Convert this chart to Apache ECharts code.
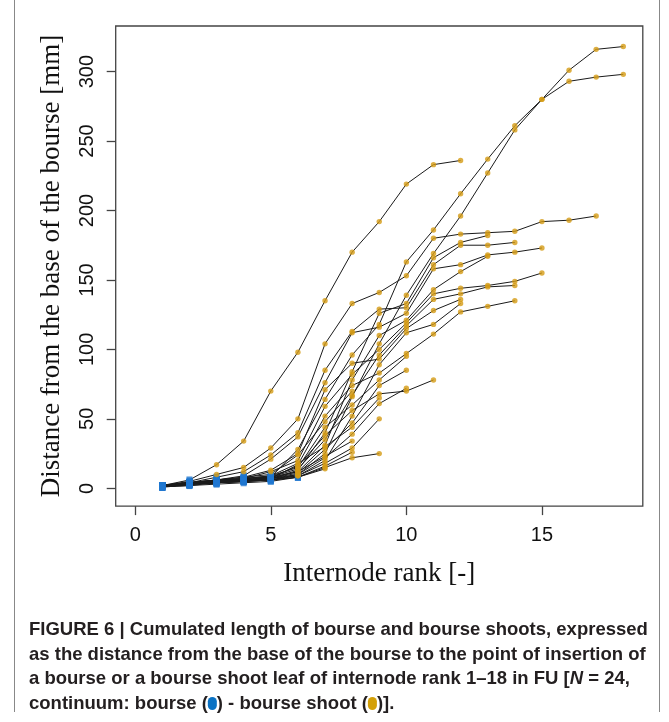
<!DOCTYPE html>
<html><head><meta charset="utf-8">
<script src="https://cdn.jsdelivr.net/npm/echarts@6/dist/echarts.min.js"></script>
<style>html,body{margin:0;padding:0;background:#fff}#c{width:669px;height:722px}</style>
</head><body><div id="c"></div>
<script>
// tick labels
const xTicks = [0, 5, 10, 15];
const yTicks = [0, 50, 100, 150, 200, 250, 300];

// cumulated distance [mm] per internode rank (rank 1 .. last rank), one array per FU
const fu01 = [2, 6, 17, 34, 70, 98, 135, 170, 192, 219, 233, 236];
const fu02 = [2, 4, 6, 7, 8, 28, 64, 96, 118, 163, 186, 212, 237, 261, 280, 301, 316, 318];
const fu03 = [2, 4, 5, 6, 7, 10, 25, 66, 104, 139, 169, 196, 227, 258, 280, 293, 296, 298];
const fu04 = [2, 5, 10, 15, 29, 50, 104, 133, 141, 153, 180, 183, 184, 185, 192, 193, 196];
const fu05 = [2, 4, 6, 9, 21, 37, 76, 112, 116, 126, 158, 161, 168, 170, 173];
const fu06 = [2, 4, 5, 7, 12, 20, 59, 82, 100, 119, 140, 144, 146, 149, 155];
const fu07 = [1, 3, 5, 6, 7, 13, 40, 84, 126, 133, 166, 177, 182];
const fu08 = [2, 3, 5, 6, 8, 14, 35, 67, 96, 117, 136, 140, 145, 146];
const fu09 = [1, 3, 4, 6, 7, 17, 52, 74, 83, 97, 111, 127, 131, 135];
const fu10 = [2, 4, 8, 12, 24, 40, 85, 113, 129, 130, 161, 175, 175, 177];
const fu11 = [2, 4, 6, 7, 8, 12, 31, 78, 110, 121, 143, 156, 167];
const fu12 = [2, 4, 6, 8, 13, 25, 71, 90, 93, 115, 128, 136];
const fu13 = [1, 3, 4, 5, 6, 9, 20, 52, 89, 112, 118, 133];
const fu14 = [2, 3, 5, 6, 8, 16, 38, 56, 68, 70, 78];
const fu15 = [2, 4, 5, 7, 9, 15, 44, 60, 78, 95];
const fu16 = [1, 3, 4, 6, 7, 11, 28, 47, 74, 85];
const fu17 = [1, 3, 4, 5, 6, 10, 22, 39, 61, 72];
const fu18 = [1, 2, 3, 4, 5, 8, 15, 22, 25];
const fu19 = [2, 3, 4, 5, 7, 9, 18, 29, 50];
const fu20 = [2, 4, 5, 7, 9, 18, 30, 44, 65];
const fu21 = [2, 4, 6, 8, 10, 24, 48, 70];
const fu22 = [1, 3, 5, 6, 7, 12, 23, 34];
const fu23 = [1, 2, 4, 5, 6, 8, 16, 26];
const fu24 = [1, 3, 4, 5, 6, 8, 14];

// number of bourse leaves (first ranks) in each FU; the rest are bourse shoot leaves
const bourseLeaves = [2, 5, 5, 2, 4, 4, 5, 5, 5, 3, 5, 4, 5, 5, 5, 5, 5, 6, 5, 5, 5, 5, 6, 6];

const fuList = [fu01, fu02, fu03, fu04, fu05, fu06, fu07, fu08, fu09, fu10, fu11, fu12,
                fu13, fu14, fu15, fu16, fu17, fu18, fu19, fu20, fu21, fu22, fu23, fu24];

const lineSeries = fuList.map((vals, i) => ({
  type: 'line', name: 'FU ' + (i + 1), silent: true, showSymbol: false, z: 2,
  data: vals.map((v, k) => [k + 1, v]),
  lineStyle: { color: '#1a1a1a', width: 1 }
}));
const bourseData = [], shootData = [];
fuList.forEach((vals, i) => vals.forEach((v, k) => {
  (k < bourseLeaves[i] ? bourseData : shootData).push([k + 1, v]);
}));

const chart = echarts.init(document.getElementById('c'), null, { renderer: 'canvas' });
const serif = '"Liberation Serif", "DejaVu Serif", serif';
const sans = '"Liberation Sans", Arial, sans-serif';
const capFont = 'bold 18.5px ' + sans;
const ink = '#231f20';
chart.setOption({
  animation: false,
  backgroundColor: '#fff',
  grid: { left: 115.7, right: 26.2, top: 26, bottom: 215.9, show: true, borderColor: '#444', borderWidth: 1.3, backgroundColor: 'transparent' },
  xAxis: {
    type: 'value', min: -0.72, max: 18.72,
    name: 'Internode rank [-]', nameLocation: 'middle', nameGap: 54,
    nameTextStyle: { fontFamily: serif, fontSize: 27, color: '#111' },
    axisLine: { show: false, onZero: false },
    axisTick: { show: true, inside: false, length: 9, lineStyle: { color: '#444', width: 1.3 }, customValues: xTicks },
    axisLabel: { margin: 19, fontFamily: sans, fontSize: 20, color: '#111', customValues: xTicks },
    splitLine: { show: false }
  },
  yAxis: {
    type: 'value', min: -12.8, max: 332.8,
    name: 'Distance from the base of the bourse [mm]', nameLocation: 'middle', nameGap: 50, nameRotate: 90,
    nameTextStyle: { fontFamily: serif, fontSize: 27, color: '#111' },
    axisLine: { show: false, onZero: false },
    axisTick: { show: true, inside: false, length: 9, lineStyle: { color: '#444', width: 1.3 }, customValues: yTicks },
    axisLabel: { margin: 18, rotate: 90, fontFamily: sans, fontSize: 20, color: '#111', customValues: yTicks },
    splitLine: { show: false }
  },
  series: lineSeries.concat([
    { type: 'scatter', name: 'bourse', silent: true, z: 4, symbol: 'rect', symbolSize: [6, 7],
      itemStyle: { color: '#1f77d0' }, data: bourseData },
    { type: 'scatter', name: 'bourse shoot', silent: true, z: 5, symbol: 'circle', symbolSize: 5.4,
      itemStyle: { color: '#d49b14' }, data: shootData }
  ]),
  graphic: [
    { type: 'line', silent: true, shape: { x1: 14.5, y1: 0, x2: 14.5, y2: 712 }, style: { stroke: '#888', lineWidth: 1 } },
    { type: 'line', silent: true, shape: { x1: 659.5, y1: 0, x2: 659.5, y2: 712 }, style: { stroke: '#888', lineWidth: 1 } },
    { type: 'text', silent: true, style: { x: 29, y: 630, verticalAlign: 'middle', font: capFont, fill: ink,
      text: 'FIGURE 6 | Cumulated length of bourse and bourse shoots, expressed' } },
    { type: 'text', silent: true, style: { x: 29, y: 654.5, verticalAlign: 'middle', font: capFont, fill: ink,
      text: 'as the distance from the base of the bourse to the point of insertion of' } },
    { type: 'text', silent: true, style: { x: 29, y: 679, verticalAlign: 'middle', font: capFont, fill: ink,
      text: '{b|a bourse or a bourse shoot leaf of internode rank 1–18 in FU [}{i|N}{b| = 24,}',
      rich: { b: { font: capFont, fill: ink }, i: { font: 'italic bold 18.5px ' + sans, fill: ink } } } },
    { type: 'text', silent: true, style: { x: 29, y: 703.5, verticalAlign: 'middle', font: capFont, fill: ink,
      text: '{b|continuum: bourse (}{u| }{b|) - bourse shoot (}{g| }{b|)].}',
      rich: { b: { font: capFont, fill: ink },
              u: { font: capFont, width: 9, height: 13, backgroundColor: '#0a72c4', borderRadius: 5 },
              g: { font: capFont, width: 9, height: 13, backgroundColor: '#d4a008', borderRadius: 5 } } } }
  ]
});
</script>
</body></html>
